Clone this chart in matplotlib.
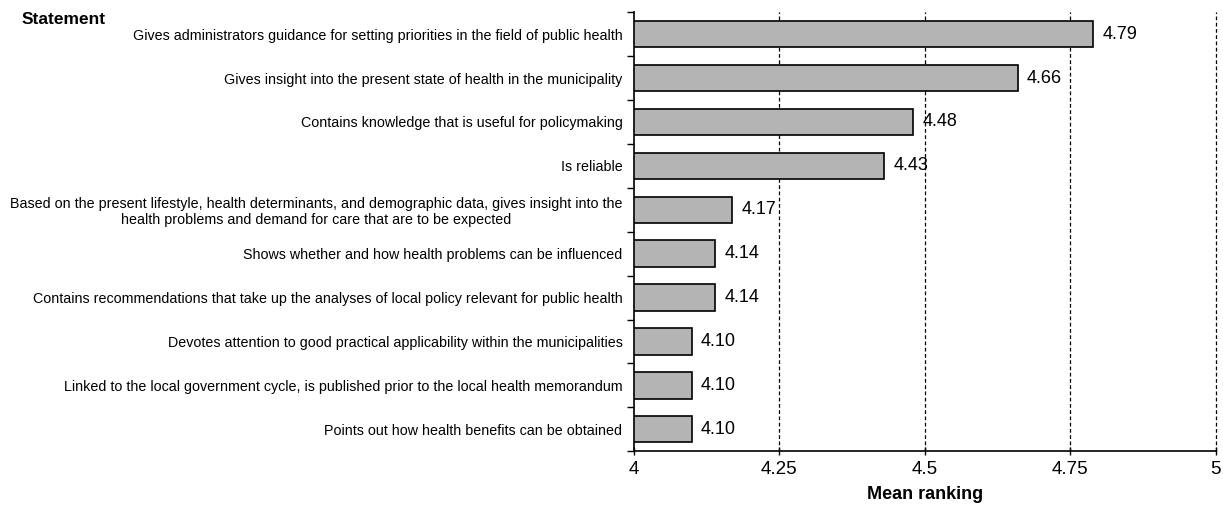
import matplotlib
matplotlib.use("Agg")
import matplotlib.pyplot as plt
from matplotlib.ticker import FixedLocator, NullFormatter

statements = [
    "Gives administrators guidance for setting priorities in the field of public health",
    "Gives insight into the present state of health in the municipality",
    "Contains knowledge that is useful for policymaking",
    "Is reliable",
    "Based on the present lifestyle, health determinants, and demographic data, gives insight into the\nhealth problems and demand for care that are to be expected",
    "Shows whether and how health problems can be influenced",
    "Contains recommendations that take up the analyses of local policy relevant for public health",
    "Devotes attention to good practical applicability within the municipalities",
    "Linked to the local government cycle, is published prior to the local health memorandum",
    "Points out how health benefits can be obtained",
]
means = [4.79, 4.66, 4.48, 4.43, 4.17, 4.14, 4.14, 4.10, 4.10, 4.10]
xticks = [4, 4.25, 4.5, 4.75, 5]
xticklabels = ["4", "4.25", "4.5", "4.75", "5"]

regular = ["Liberation Sans", "DejaVu Sans"]

fig = plt.figure(figsize=(12.23, 5.07), dpi=100)
ax = fig.add_axes([0.518, 0.110, 0.476, 0.866])

n = len(statements)
ypos = list(range(n))
ax.barh(ypos, [m - 4 for m in means], left=4, height=0.6,
        color="#b4b4b4", edgecolor="black", linewidth=1.2, zorder=3)

ax.set_xlim(4, 5)
ax.set_ylim(n - 0.5, -0.5)

for y, m in zip(ypos, means):
    ax.text(m + 0.016, y, f"{m:.2f}", va="center", ha="left",
            fontsize=13, family=regular, zorder=4)

ax.set_xticks(xticks)
ax.set_xticklabels(xticklabels, fontsize=13.5, family=regular)
for x in xticks[1:]:
    ax.axvline(x, color="black", linestyle=(0, (3, 2)), linewidth=0.9,
               zorder=1, clip_on=False)

ax.set_yticks(ypos)
ax.set_yticklabels(statements, fontsize=10.3, family=regular)
for lab in ax.get_yticklabels():
    lab.set_ha("right")
    lab.set_multialignment("center")
ax.tick_params(axis="y", which="major", length=0, pad=8)
ax.yaxis.set_minor_locator(FixedLocator([i - 0.5 for i in range(n + 1)]))
ax.yaxis.set_minor_formatter(NullFormatter())
ax.tick_params(axis="y", which="minor", length=5, width=1, direction="out")
ax.tick_params(axis="x", which="major", length=6, width=1, direction="inout", pad=4)

ax.spines["top"].set_visible(False)
ax.spines["right"].set_visible(False)
ax.spines["left"].set_linewidth(1.2)
ax.spines["bottom"].set_linewidth(1.2)

ax.set_xlabel("Mean ranking", fontsize=13, fontweight="bold", family=regular, labelpad=6)
fig.text(0.018, 0.962, "Statement", fontsize=12.5, fontweight="bold", family=regular,
         ha="left", va="center")

fig.savefig("out.png", dpi=100)
